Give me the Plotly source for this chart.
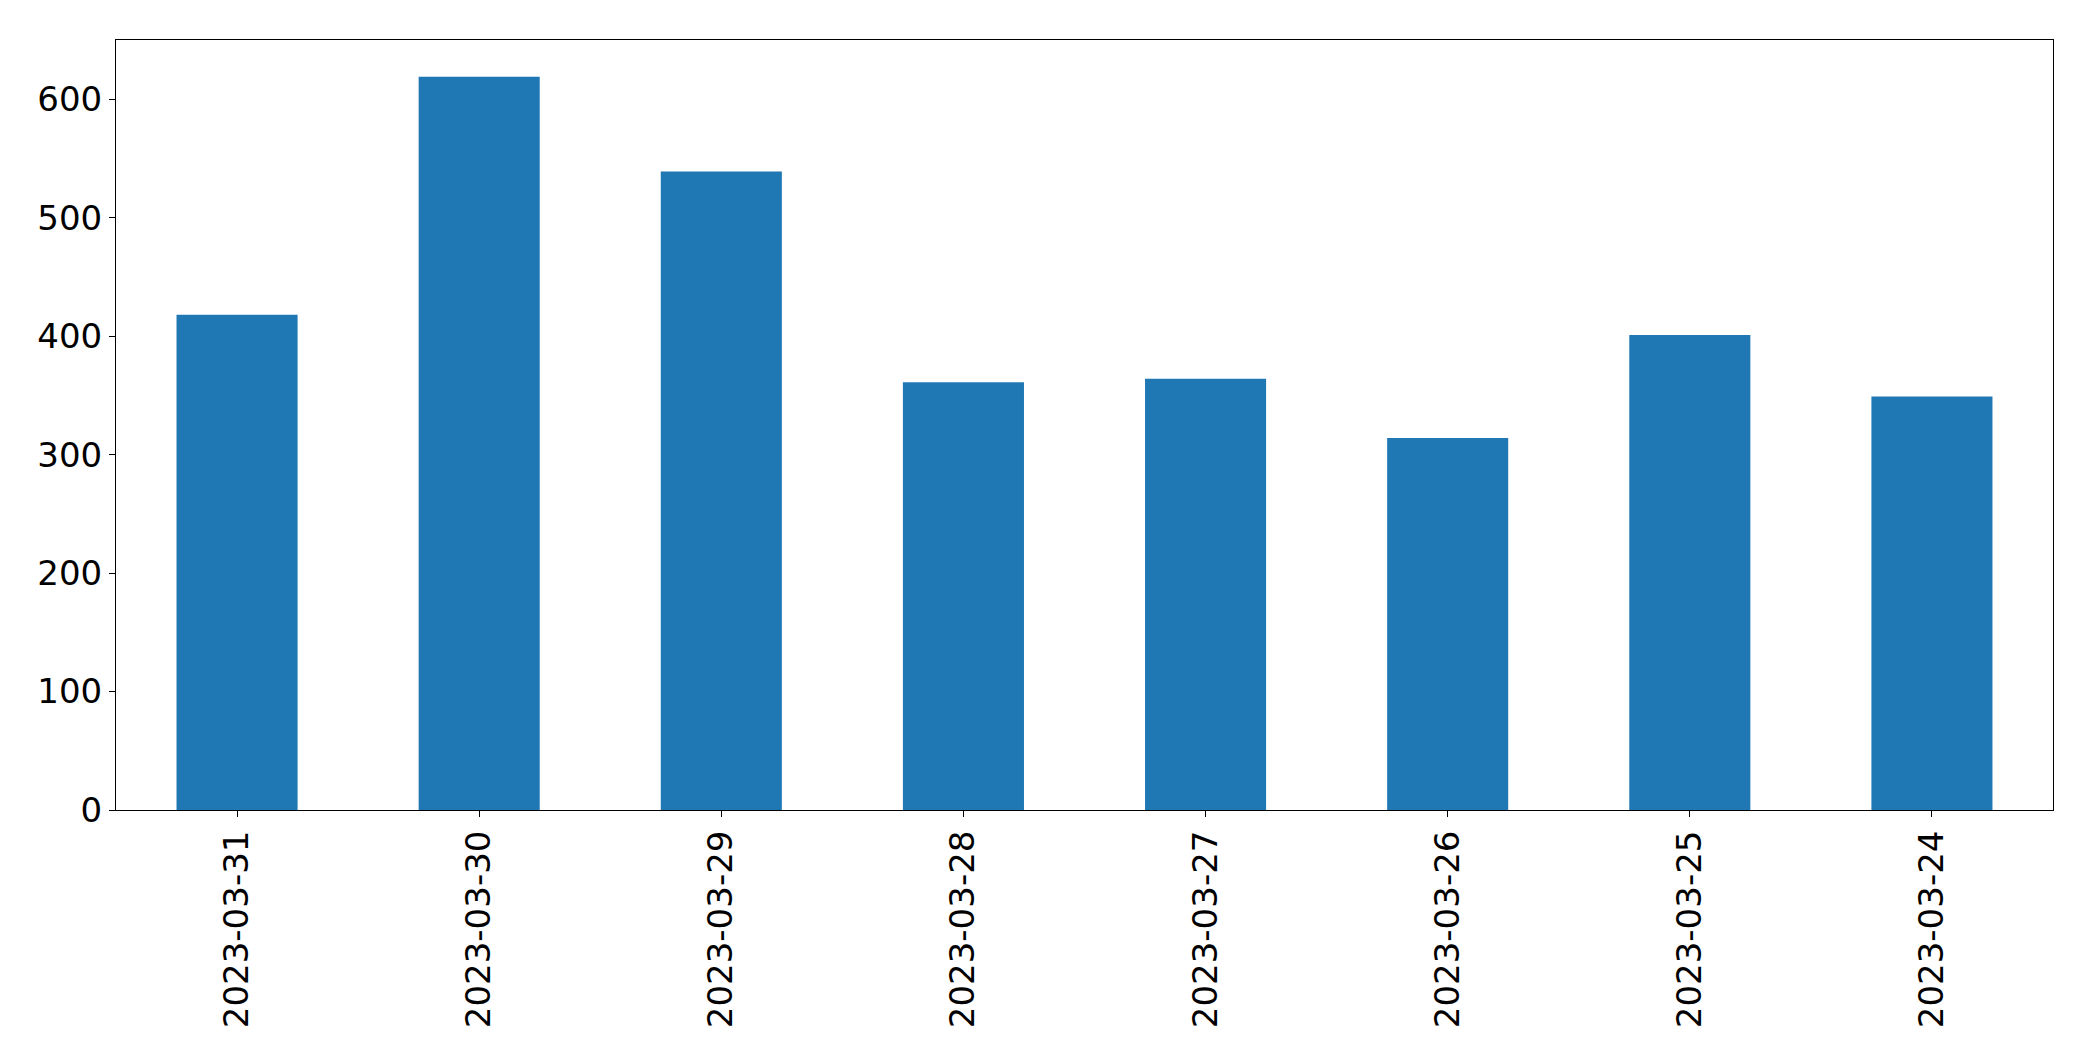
import plotly.graph_objects as go

categories = ["2023-03-31", "2023-03-30", "2023-03-29", "2023-03-28",
              "2023-03-27", "2023-03-26", "2023-03-25", "2023-03-24"]
values = [418, 619, 539, 361, 364, 314, 401, 349]
y_ticks = [0, 100, 200, 300, 400, 500, 600]

fig = go.Figure(go.Bar(
    x=list(range(len(categories))),
    y=values,
    width=0.5,
    marker=dict(color="#1f77b4", line=dict(width=0)),
))

fig.update_layout(
    width=2077, height=1045,
    margin=dict(l=108, r=32, t=32, b=243, pad=0),
    plot_bgcolor="white", paper_bgcolor="white",
    font=dict(family="DejaVu Sans", size=34, color="black"),
    showlegend=False,
)
fig.update_xaxes(
    range=[-0.5, len(categories) - 0.5],
    tickmode="array", tickvals=list(range(len(categories))), ticktext=categories,
    tickangle=-90, ticks="outside", ticklen=6, tickwidth=1, tickcolor="black",
    showline=True, linecolor="black", linewidth=1, mirror=True,
    showgrid=False, zeroline=False,
)
fig.update_yaxes(
    range=[0, 650],
    tickmode="array", tickvals=y_ticks,
    ticks="outside", ticklen=6, tickwidth=1, tickcolor="black",
    showline=True, linecolor="black", linewidth=1, mirror=True,
    showgrid=False, zeroline=False,
)

fig.write_html("out.html")
